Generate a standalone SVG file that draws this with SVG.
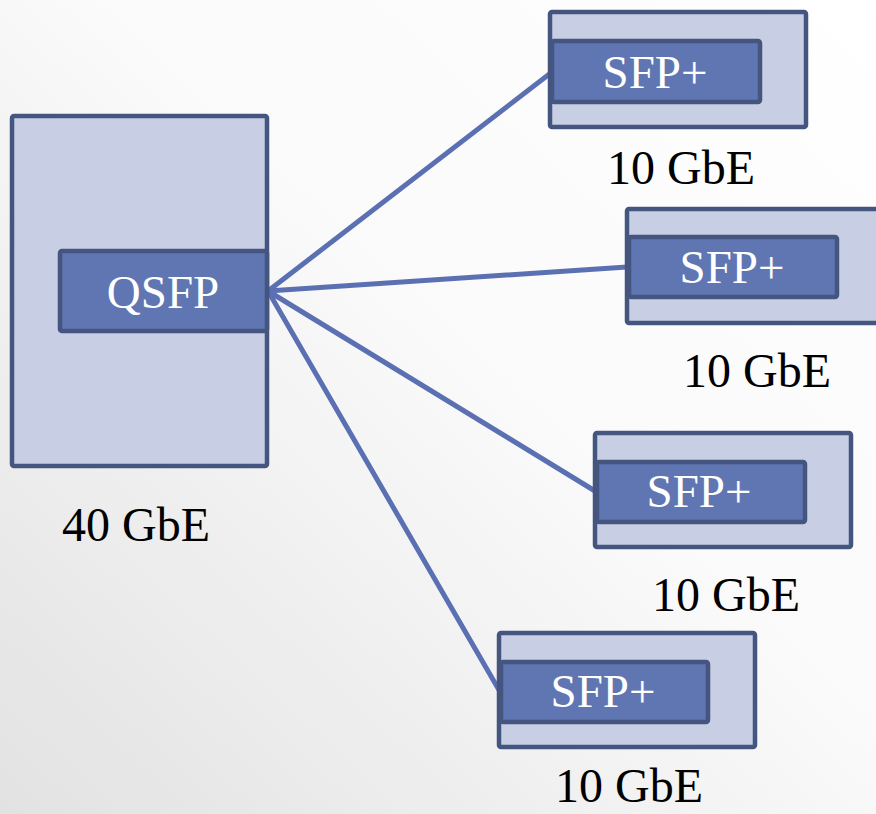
<svg xmlns="http://www.w3.org/2000/svg" width="876" height="814" viewBox="0 0 876 814">
<defs>
<linearGradient id="bg" x1="0" y1="1" x2="1" y2="0">
<stop offset="0" stop-color="#e2e2e2"/>
<stop offset="0.55" stop-color="#fafafa"/>
<stop offset="1" stop-color="#ffffff"/>
</linearGradient>
<style>
.outer{fill:#c8cee3;stroke:#44557f;stroke-width:4.5;}
.inner{fill:#5f76b3;stroke:#44557f;stroke-width:4.5;}
.conn{stroke:#5a70b2;stroke-width:5;fill:none;stroke-linecap:round;}
.t{font-family:"Liberation Serif","Times New Roman",serif;font-size:47px;text-anchor:middle;}
.lbl{font-size:48px;}
.w{fill:#ffffff;}
.k{fill:#000000;}
</style>
</defs>
<rect x="0" y="0" width="876" height="814" fill="url(#bg)"/>
<g id="connectors">
<line class="conn" x1="268" y1="291" x2="552" y2="72"/>
<line class="conn" x1="268" y1="291" x2="627" y2="267"/>
<line class="conn" x1="268" y1="291" x2="595" y2="491"/>
<line class="conn" x1="268" y1="291" x2="499" y2="690"/>
</g>
<g id="qsfp">
<rect class="outer" x="12" y="116" width="255" height="350" rx="2"/>
<rect class="inner" x="60" y="251" width="207" height="80" rx="2"/>
<text class="t w" x="163" y="308">QSFP</text>
<text class="t k lbl" x="136" y="541">40 GbE</text>
</g>
<g id="sfp1">
<rect class="outer" x="550" y="12" width="256" height="115" rx="2"/>
<rect class="inner" x="552" y="41" width="208" height="61" rx="2"/>
<text class="t w" x="655" y="88">SFP+</text>
<text class="t k lbl" x="681" y="184">10 GbE</text>
</g>
<g id="sfp2">
<rect class="outer" x="627" y="209" width="256" height="114" rx="2"/>
<rect class="inner" x="629" y="237" width="208" height="60" rx="2"/>
<text class="t w" x="732" y="283">SFP+</text>
<text class="t k lbl" x="757" y="387">10 GbE</text>
</g>
<g id="sfp3">
<rect class="outer" x="595" y="433" width="256" height="114" rx="2"/>
<rect class="inner" x="597" y="462" width="208" height="60" rx="2"/>
<text class="t w" x="699" y="507">SFP+</text>
<text class="t k lbl" x="726" y="611">10 GbE</text>
</g>
<g id="sfp4">
<rect class="outer" x="499" y="633" width="256" height="114" rx="2"/>
<rect class="inner" x="501" y="662" width="207" height="60" rx="2"/>
<text class="t w" x="603" y="707">SFP+</text>
<text class="t k lbl" x="629" y="802">10 GbE</text>
</g>
</svg>
